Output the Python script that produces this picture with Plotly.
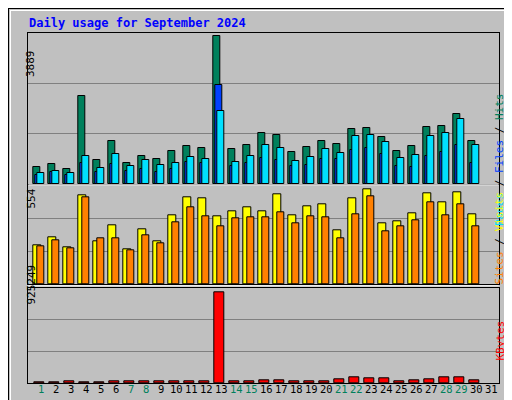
import plotly.graph_objects as go

days = list(range(1, 31))
day_labels = [str(d) for d in range(1, 32)]
weekend = [1, 7, 8, 14, 15, 21, 22, 28, 29]
hits = [450, 538, 397, 2328, 635, 1138, 556, 741, 661, 873, 1005, 952, 3889, 926, 1032,
        1349, 1296, 847, 979, 1138, 1058, 1455, 1482, 1243, 873, 1005, 1508, 1535, 1852, 1138]
files = [238, 318, 238, 556, 318, 529, 344, 397, 318, 397, 582, 556, 2593, 476, 556,
         688, 635, 476, 503, 662, 662, 900, 953, 794, 476, 450, 741, 847, 1032, 556]
pages = [291, 344, 291, 741, 423, 794, 476, 635, 503, 556, 714, 662, 1932, 582, 741,
         1032, 953, 609, 714, 926, 820, 1270, 1297, 1111, 688, 767, 1270, 1349, 1720, 1032]
visits = [229, 277, 217, 518, 253, 343, 205, 319, 253, 403, 506, 500, 397, 427, 452,
          427, 524, 403, 458, 470, 313, 500, 554, 355, 367, 415, 530, 476, 536, 409]
sites = [223, 259, 211, 506, 271, 271, 199, 289, 241, 361, 452, 397, 337, 385, 391,
         391, 421, 355, 397, 391, 271, 409, 512, 307, 337, 373, 476, 403, 470, 337]
kbytes = [10167, 10167, 20334, 10167, 10167, 20334, 20334, 20334, 20334, 20334, 20334, 20334,
          925249, 20334, 20334, 30501, 30501, 20334, 20334, 20334, 40668, 61002, 50835,
          50835, 20334, 30501, 40668, 61002, 61002, 30501]

W, H = 512, 400
X0, X1 = 20.3, 490.7
def ydom(top, bot):
    return [1 - bot / H, 1 - top / H]

fig = go.Figure()
line = dict(color="black", width=1)

def bar(y, color, off, w, ya):
    s = "" if ya == 1 else str(ya)
    fig.add_trace(go.Bar(x=days, y=y, marker=dict(color=color, line=line),
                         offset=off, width=w, xaxis="x" + s, yaxis="y" + s, showlegend=False))

bar(hits, "#00805C", -0.513, 0.467, 1)
bar(files, "#0040FF", -0.38, 0.467, 1)
bar(pages, "#00E0FF", -0.247, 0.467, 1)
bar(visits, "#FFFF00", -0.513, 0.52, 2)
bar(sites, "#FF8000", -0.247, 0.467, 2)
bar(kbytes, "#FF0000", -0.447, 0.69, 3)

xr = [0.153, 31.51]
xcommon = dict(range=xr, domain=[X0 / W, X1 / W], showgrid=False, zeroline=False,
               showline=True, linecolor="black", mirror=True, fixedrange=True,
               showticklabels=False, ticks="")
fig.update_layout(
    width=W, height=H, margin=dict(l=0, r=0, t=0, b=0, autoexpand=False),
    paper_bgcolor="#C0C0C0", plot_bgcolor="#C0C0C0", barmode="overlay", bargap=0,
    xaxis=dict(**xcommon, anchor="y"),
    xaxis2=dict(**xcommon, anchor="y2"),
    xaxis3=dict(**xcommon, anchor="y3"),
)
ycommon = dict(showticklabels=False, zeroline=False, showline=True, linecolor="black",
               mirror=True, gridcolor="#808080", gridwidth=1, ticks="", fixedrange=True)
fig.update_layout(
    yaxis=dict(**ycommon, domain=ydom(25, 176.3), range=[0, 3968], tickvals=[1323, 2646]),
    yaxis2=dict(**ycommon, domain=ydom(177.3, 276.3), range=[0, 578], tickvals=[193, 385]),
    yaxis3=dict(**ycommon, domain=ydom(280.3, 375.3), range=[0, 966000], tickvals=[322000, 644000]),
)

shapes = [
    dict(type="rect", xref="paper", yref="paper", x0=0, x1=1, y0=0, y1=1,
         line=dict(color="black", width=2), fillcolor="rgba(0,0,0,0)"),
    dict(type="line", xref="paper", yref="paper", x0=2 / W, x1=1 - 6 / W, y0=1 - 2.5 / H, y1=1 - 2.5 / H,
         line=dict(color="white", width=1)),
    dict(type="line", xref="paper", yref="paper", x0=2.5 / W, x1=2.5 / W, y0=6 / H, y1=1 - 2 / H,
         line=dict(color="white", width=1)),
    dict(type="line", xref="paper", yref="paper", x0=2 / W, x1=1 - 2 / W, y0=4 / H, y1=4 / H,
         line=dict(color="#808080", width=3)),
    dict(type="line", xref="paper", yref="paper", x0=1 - 4 / W, x1=1 - 4 / W, y0=2 / H, y1=1 - 2 / H,
         line=dict(color="#808080", width=3)),
    dict(type="line", xref="paper", yref="paper", x0=X0 / W, x1=X1 / W, y0=1 - 176.8 / H, y1=1 - 176.8 / H,
         line=dict(color="white", width=1)),
    dict(type="line", xref="paper", yref="paper", x0=X0 / W, x1=X1 / W, y0=1 - 277.8 / H, y1=1 - 277.8 / H,
         line=dict(color="white", width=1)),
]
fig.update_layout(shapes=shapes)

mono = "DejaVu Sans Mono"
ann = [
    dict(text="<b>Daily usage for September 2024</b>", x=19 / W, y=1 - 15 / H, xanchor="left",
         yanchor="middle", font=dict(family=mono, size=12, color="#0000FF")),
    dict(text="3889", x=14 / W, y=1 - 40 / H, textangle=-90, font=dict(family=mono, size=11, color="black")),
    dict(text="554", x=14 / W, y=1 - 191 / H, textangle=-90, font=dict(family=mono, size=11, color="black")),
    dict(text="925249", x=14 / W, y=1 - 299 / H, textangle=-90, font=dict(family=mono, size=11, color="black")),
    dict(text="<span style='color:#00E0FF'>Pages</span> / <span style='color:#0040FF'>Files</span> / <span style='color:#00805C'>Hits</span>",
         x=500 / W, y=1 - 83 / H, textangle=-90, font=dict(family=mono, size=11, color="black")),
    dict(text="<span style='color:#FF8000'>Sites</span> / <span style='color:#FFFF00'>Visits</span>",
         x=500 / W, y=1 - 230 / H, textangle=-90, font=dict(family=mono, size=11, color="black")),
    dict(text="KBytes", x=500 / W, y=1 - 355 / H, textangle=-90, font=dict(family=mono, size=11, color="#FF0000")),
]
for a in ann:
    a.update(xref="paper", yref="paper", showarrow=False)
for i, l in enumerate(day_labels):
    d = i + 1
    ann.append(dict(text=l, x=d, xref="x3", y=1 - 389 / H, yref="paper", showarrow=False,
                    font=dict(family=mono, size=10.5, color="#00805C" if d in weekend else "black")))
fig.update_layout(annotations=ann)

fig.write_html("out.html")
